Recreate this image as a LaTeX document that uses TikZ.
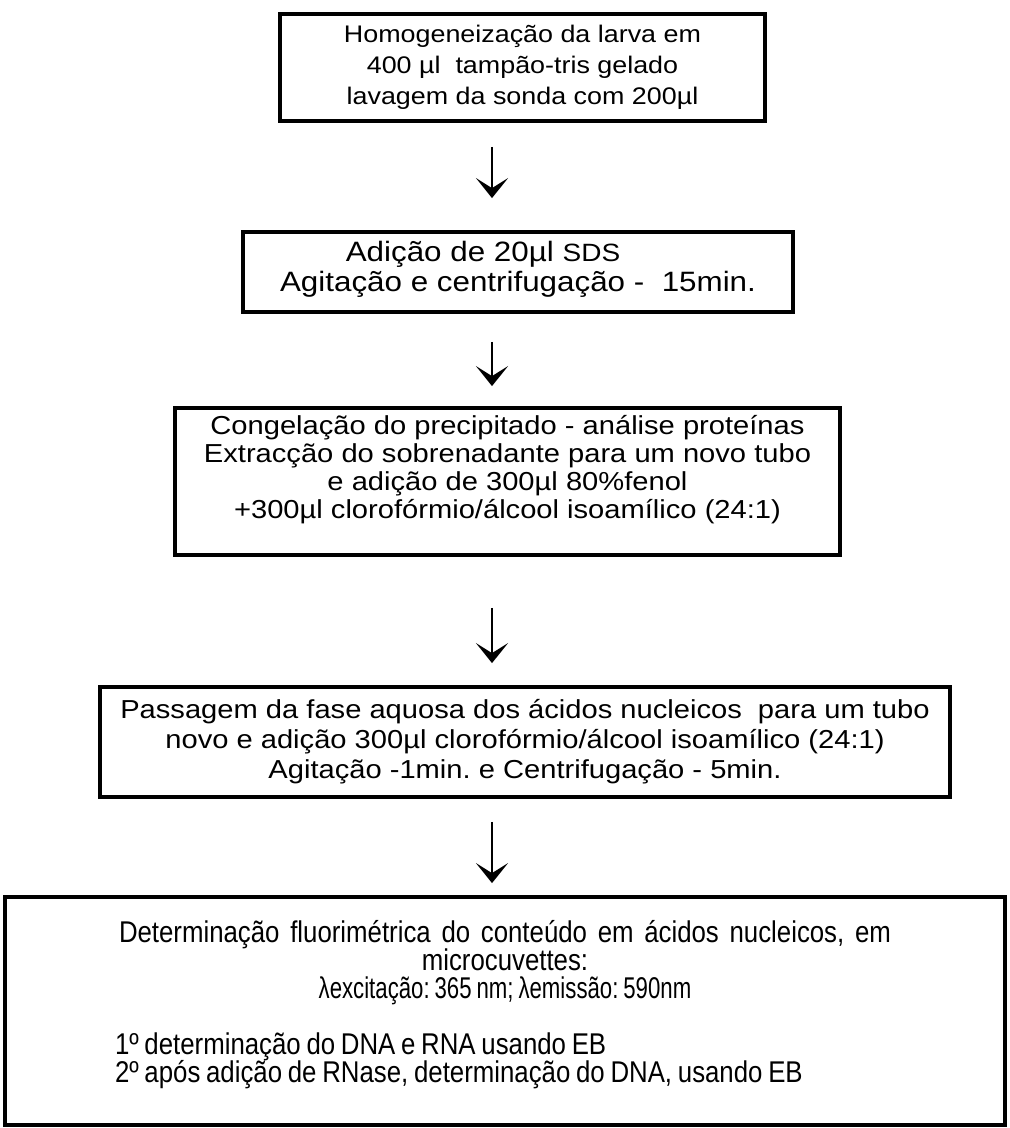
\documentclass[tikz,border=0pt]{standalone}
\usepackage{fontspec}
\setmainfont{Liberation Sans}[FakeStretch=1.12]
\newfontfamily\narrowfont[FakeStretch=0.86,WordSpace=0.8]{Liberation Sans}
\newfontfamily\squeezefont[FakeStretch=0.74,WordSpace=0.8]{Liberation Sans}
\usetikzlibrary{arrows.meta,positioning}
\lineskiplimit=-20pt
\frenchspacing

\begin{document}
\begin{tikzpicture}[x=0.5pt, y=-0.5pt,
    stepbox/.style={draw, line width=1.9pt, align=center, inner sep=0pt},
    flow/.style={-{Stealth[length=10pt,width=16pt,inset=5pt]}, line width=1.3pt}]
    \useasboundingbox (0,0) rectangle (1010,1128);
    \coordinate (axis) at (492,0);

    \node[stepbox, minimum width=242.5pt, minimum height=53.5pt,
          font=\fontsize{12}{15.5}\selectfont] (homog) at (522.5,67.5)
        {Homogeneização da larva em\\400 µl ~tampão-tris gelado\\lavagem da sonda com 200µl};

    \node[stepbox, minimum width=275pt, minimum height=40pt,
          font=\fontsize{14}{15}\selectfont] (sds) at (518,272)
        {Adição de 20µl {\fontsize{12.5}{15}\selectfont SDS}\hspace*{35pt}\\
         Agitação e centrifugação - ~15min.\hspace*{20pt}\\[-9.5pt]\mbox{}};

    \node[stepbox, minimum width=332.5pt, minimum height=73.5pt,
          font=\fontsize{13}{14}\selectfont] (fenol) at (507.5,481.5)
        {Congelação do precipitado - análise proteínas\\
         Extracção do sobrenadante para um novo tubo\\
         e adição de 300µl 80\%fenol\\
         +300µl clorofórmio/álcool isoamílico (24:1)\\[0.5pt]\mbox{}};

    \node[stepbox, minimum width=425pt, minimum height=55pt,
          font=\fontsize{13}{15}\selectfont] (aquosa) at (525,742)
        {Passagem da fase aquosa dos ácidos nucleicos ~para um tubo\\
         novo e adição 300µl clorofórmio/álcool isoamílico (24:1)\\
         Agitação -1min. e Centrifugação - 5min.};

    \node[stepbox, minimum width=500pt, minimum height=114pt,
          font=\narrowfont\fontsize{15}{14}\selectfont] (fluor) at (505,1011)
        {\makebox[386pt][s]{Determinação fluorimétrica do conteúdo em ácidos nucleicos, em}\\
         microcuvettes:\\
         {\squeezefont λexcitação: 365 nm; λemissão: 590nm}\\[14pt]
         \makebox[490pt][l]{\hspace{50pt}1º determinação do DNA e RNA usando EB}\\
         \makebox[490pt][l]{\hspace{50pt}2º após adição de RNase, determinação do DNA, usando EB}\\[-4pt]
         \mbox{}};

    \draw[flow, shorten <=12pt, shorten >=16pt] (homog.south -| axis) -- (sds.north -| axis);
    \draw[flow, shorten <=14pt, shorten >=10pt] (sds.south -| axis) -- (fenol.north -| axis);
    \draw[flow, shorten <=25.5pt, shorten >=11pt] (fenol.south -| axis) -- (aquosa.north -| axis);
    \draw[flow, shorten <=11.5pt, shorten >=6pt] (aquosa.south -| axis) -- (fluor.north -| axis);
\end{tikzpicture}
\end{document}
